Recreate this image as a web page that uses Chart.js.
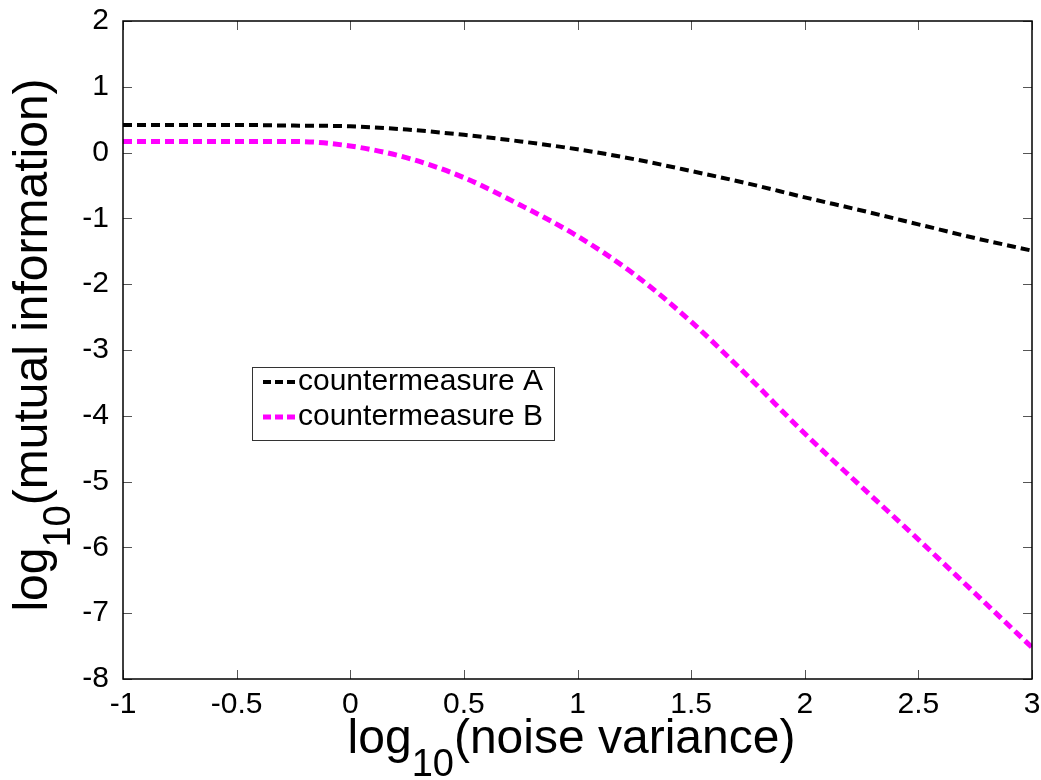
<!DOCTYPE html>
<html>
<head>
<meta charset="utf-8">
<script src="https://cdn.jsdelivr.net/npm/chart.js@4/dist/chart.umd.min.js"></script>
<style>
  html, body { margin: 0; padding: 0; background: #fff; }
  #wrap { width: 1041px; height: 780px; }
</style>
</head>
<body>
<div id="wrap"><canvas id="mi-chart" width="1041" height="780"></canvas></div>
<script>
// log10(noise variance)
const noiseLog = [-1, -0.75, -0.5, -0.25, 0, 0.25, 0.5, 0.75, 1, 1.25, 1.5, 1.75, 2, 2.25, 2.5, 2.75, 3]
// log10(mutual information)
const miA = [0.42, 0.42, 0.42, 0.41, 0.40, 0.35, 0.27, 0.17, 0.05, -0.10, -0.28, -0.47, -0.68, -0.88, -1.09, -1.30, -1.49]
const miB = [0.17, 0.17, 0.17, 0.17, 0.10, -0.08, -0.38, -0.80, -1.27, -1.85, -2.57, -3.40, -4.27, -5.08, -5.88, -6.70, -7.52]
const seriesNames = ["countermeasure A", "countermeasure B"]
const seriesColors = ["#000000", "#ff00ff"]
const xTicks = [-1, -0.5, 0, 0.5, 1, 1.5, 2, 2.5, 3]
const yTicks = [2, 1, 0, -1, -2, -3, -4, -5, -6, -7, -8]

const FONT = '"Liberation Sans", Arial, sans-serif'

function toPoints(ys) {
    let pts = []
    for (let i = 0; i < noiseLog.length; i++) pts.push({x: noiseLog[i], y: ys[i]})
    return pts
}

// title like log_10(...) with a lowered subscript, centred on (cx, cy)
function drawLogTitle(ctx, cx, cy, rest, rotated) {
    const big = '48px ' + FONT, small = '38px ' + FONT
    ctx.save()
    ctx.translate(cx, cy)
    if (rotated) ctx.rotate(-Math.PI / 2)
    ctx.fillStyle = '#000'
    ctx.textBaseline = 'alphabetic'
    ctx.textAlign = 'left'
    ctx.font = big
    const w1 = ctx.measureText('log').width
    const w3 = ctx.measureText(rest).width
    ctx.font = small
    const w2 = ctx.measureText('10').width
    let x = -(w1 + w2 + w3) / 2
    ctx.font = big; ctx.fillText('log', x, 0); x += w1
    ctx.font = small; ctx.fillText('10', x, 23); x += w2
    ctx.font = big; ctx.fillText(rest, x, 0)
    ctx.restore()
}

// matlab style box, inward ticks, legend and titles
const matlabLook = {
    id: 'matlabLook',
    afterDraw(chart) {
        const ctx = chart.ctx
        const a = chart.chartArea
        const xs = chart.scales.x, ys = chart.scales.y
        ctx.save()
        ctx.strokeStyle = '#555'
        ctx.lineWidth = 1
        ctx.beginPath()
        xTicks.forEach(v => {
            const px = Math.round(xs.getPixelForValue(v)) + 0.5
            ctx.moveTo(px, a.bottom); ctx.lineTo(px, a.bottom - 9)
            ctx.moveTo(px, a.top); ctx.lineTo(px, a.top + 9)
        })
        yTicks.forEach(v => {
            const py = Math.round(ys.getPixelForValue(v)) + 0.5
            ctx.moveTo(a.left, py); ctx.lineTo(a.left + 9, py)
            ctx.moveTo(a.right, py); ctx.lineTo(a.right - 9, py)
        })
        ctx.stroke()
        ctx.strokeStyle = '#000'
        ctx.lineWidth = 1.5
        ctx.strokeRect(a.left, a.top, a.right - a.left, a.bottom - a.top)

        // legend box
        const lx = 252, ly = 367, lw = 302, lh = 73
        ctx.fillStyle = '#fff'
        ctx.fillRect(lx, ly, lw, lh)
        ctx.strokeStyle = '#333'
        ctx.lineWidth = 1
        ctx.strokeRect(lx + 0.5, ly + 0.5, lw, lh)
        ctx.font = '30px ' + FONT
        ctx.textBaseline = 'middle'
        ctx.textAlign = 'left'
        chart.data.datasets.forEach((ds, i) => {
            const cy = ly + 15 + i * 35
            ctx.strokeStyle = ds.borderColor
            ctx.lineWidth = ds.borderWidth
            ctx.setLineDash([8, 4])
            ctx.beginPath(); ctx.moveTo(lx + 11, cy); ctx.lineTo(lx + 46, cy); ctx.stroke()
            ctx.setLineDash([])
            ctx.fillStyle = '#000'
            ctx.fillText(ds.label, lx + 46, cy)
        })
        ctx.restore()

        drawLogTitle(ctx, (a.left + a.right) / 2 - 6, 753, '(noise variance)', false)
        drawLogTitle(ctx, 47, (a.top + a.bottom) / 2 - 5, '(mutual information)', true)
    }
}

const config = {
    type: 'line',
    data: {
        datasets: [{
            label: seriesNames[0],
            data: toPoints(miA),
            borderColor: seriesColors[0],
            borderWidth: 4,
            borderDash: [9, 5],
            pointRadius: 0,
            cubicInterpolationMode: 'monotone',
            fill: false
        }, {
            label: seriesNames[1],
            data: toPoints(miB),
            borderColor: seriesColors[1],
            borderWidth: 5,
            borderDash: [9, 5],
            pointRadius: 0,
            cubicInterpolationMode: 'monotone',
            fill: false
        }]
    },
    options: {
        responsive: false,
        animation: false,
        layout: {padding: {top: 21, right: 9, left: 0, bottom: 0}},
        plugins: {legend: {display: false}, tooltip: {enabled: false}},
        scales: {
            x: {
                type: 'linear', min: -1, max: 3,
                afterBuildTicks: s => { s.ticks = xTicks.map(v => ({value: v})) },
                afterFit: s => { s.height = 101; s.paddingLeft = 0; s.paddingRight = 0 },
                grid: {drawOnChartArea: false, drawTicks: false},
                border: {display: false},
                ticks: {padding: 8, maxRotation: 0, color: '#000', font: {family: FONT, size: 30},
                        callback: v => String(v)}
            },
            y: {
                type: 'linear', min: -8, max: 2,
                afterBuildTicks: s => { s.ticks = yTicks.map(v => ({value: v})) },
                afterFit: s => { s.width = 123; s.paddingTop = 0; s.paddingBottom = 0 },
                grid: {drawOnChartArea: false, drawTicks: false},
                border: {display: false},
                ticks: {padding: 14, color: '#000', font: {family: FONT, size: 30},
                        callback: v => String(v)}
            }
        }
    },
    plugins: [matlabLook]
}
new Chart(document.getElementById("mi-chart"), config)
</script>
</body>
</html>
